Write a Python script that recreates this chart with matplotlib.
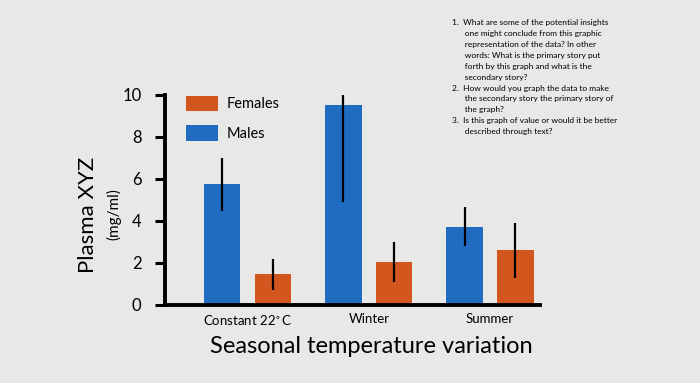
import numpy as np
import matplotlib.pyplot as plt

plt.rcParams['font.family'] = ['Lato', 'DejaVu Sans']

# data
categories = ['Constant 22$^{\\circ}$C', 'Winter', 'Summer']
males = [5.75, 9.5, 3.7]
males_err_low = [1.3, 4.6, 0.9]
males_err_high = [1.25, 0.65, 0.95]
females = [1.45, 2.05, 2.6]
females_err = [0.75, 0.95, 1.3]
y_ticks = [0, 2, 4, 6, 8, 10]

questions = (
    "1.  What are some of the potential insights\n"
    "      one might conclude from this graphic\n"
    "      representation of the data? In other\n"
    "      words: What is the primary story put\n"
    "      forth by this graph and what is the\n"
    "      secondary story?\n"
    "2.  How would you graph the data to make\n"
    "      the secondary story the primary story of\n"
    "      the graph?\n"
    "3.  Is this graph of value or would it be better\n"
    "      described through text?"
)

blue = '#1f6cc0'
orange = '#d2561e'
bg = '#e8e8e6'

fig = plt.figure(figsize=(7, 3.83), dpi=100, facecolor=bg)
ax = fig.add_axes([0.236, 0.204, 0.535, 0.548], facecolor=bg)

x = np.arange(len(categories))
bar_width = 0.3

ax.bar(x - 0.21, males, width=bar_width, color=blue, label='Males',
       yerr=[males_err_low, males_err_high],
       error_kw=dict(ecolor='black', elinewidth=1.6, capsize=0))
ax.bar(x + 0.21, females, width=bar_width, color=orange, label='Females',
       yerr=females_err,
       error_kw=dict(ecolor='black', elinewidth=1.6, capsize=0))

ax.set_xlim(-0.68, 2.41)
ax.set_ylim(0, 10)
ax.set_yticks(y_ticks)
ax.tick_params(axis='y', length=7, width=2.2, labelsize=12, pad=10)
ax.set_xticks(x)
ax.set_xticklabels(categories, fontsize=9.5)
ax.tick_params(axis='x', length=0, pad=6)

for s in ['top', 'right']:
    ax.spines[s].set_visible(False)
for s in ['left', 'bottom']:
    ax.spines[s].set_linewidth(2.8)

# legend: Females first, then Males
handles, labels = ax.get_legend_handles_labels()
ax.legend(handles[::-1], labels[::-1], loc='upper left', bbox_to_anchor=(0.02, 1.06),
          frameon=False, fontsize=10.5, handlelength=2.2, handleheight=1.3,
          labelspacing=0.95, handletextpad=0.6)

ax.set_xlabel('Seasonal temperature variation', fontsize=17)
ax.xaxis.set_label_coords(0.55, -0.15)

fig.text(0.125, 0.44, 'Plasma XYZ', rotation=90, fontsize=16,
         ha='center', va='center')
fig.text(0.162, 0.44, '(mg/ml)', rotation=90, fontsize=11,
         ha='center', va='center')

fig.text(0.645, 0.95, questions, fontsize=6.0, va='top', ha='left',
         linespacing=1.65)

fig.savefig('out.png', dpi=100, facecolor=bg)
